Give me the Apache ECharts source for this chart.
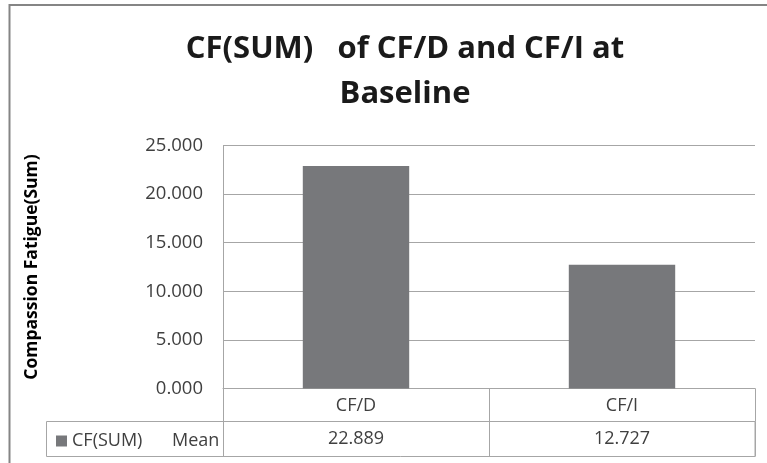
<!DOCTYPE html>
<html>
<head>
<meta charset="utf-8">
<script src="https://cdn.jsdelivr.net/npm/echarts@6/dist/echarts.min.js"></script>
<style>
  html, body { margin: 0; padding: 0; background: #fff; }
  #chart { width: 767px; height: 463px; }
</style>
</head>
<body>
<div id="chart"></div>
<script>
// data
const categories = ['CF/D', 'CF/I']
const meanValues = [22.889, 12.727]
const seriesName = 'CF(SUM)'
const statName = 'Mean'
const yTicks = { min: 0, max: 25, interval: 5 }

const gray = '#a6a6a6'
const txt = '#404040'
const font = 'Open Sans'

let chart = echarts.init(document.getElementById('chart'))
chart.setOption({
  animation: false,
  backgroundColor: '#fff',
  title: {
    text: 'CF(SUM)   of CF/D and CF/I at\nBaseline',
    left: 400,
    textAlign: 'center',
    top: 22,
    textStyle: { fontFamily: font, fontWeight: 'bold', fontSize: 31, lineHeight: 45, color: '#1a1a1a' }
  },
  grid: { left: 223, right: 12, top: 145.5, bottom: 74.5 },
  legend: {
    left: 51,
    top: 427,
    icon: 'rect',
    itemWidth: 11,
    itemHeight: 11,
    itemGap: 5,
    textStyle: {
      fontFamily: font, fontSize: 18, color: txt,
      rich: {
        a: { fontFamily: font, fontSize: 18, color: txt, width: 100 },
        b: { fontFamily: font, fontSize: 18, color: txt }
      }
    },
    formatter: name => '{a|' + name + '}{b|' + statName + '}'
  },
  xAxis: [
    {
      type: 'category',
      data: categories,
      axisLine: { lineStyle: { color: gray } },
      axisTick: { show: true, length: 33, lineStyle: { color: gray } },
      axisLabel: { margin: 6, fontFamily: font, fontSize: 18, lineHeight: 22, color: txt }
    },
    {
      type: 'category',
      data: categories,
      position: 'bottom',
      offset: 33,
      axisLine: { lineStyle: { color: gray } },
      axisTick: { show: true, length: 35, lineStyle: { color: gray } },
      axisLabel: {
        margin: 6, fontFamily: font, fontSize: 18, lineHeight: 22, color: txt,
        formatter: (v, i) => meanValues[i].toFixed(3)
      }
    }
  ],
  yAxis: {
    type: 'value',
    min: yTicks.min,
    max: yTicks.max,
    interval: yTicks.interval,
    name: 'Compassion Fatigue(Sum)',
    nameLocation: 'middle',
    nameGap: 182,
    nameTextStyle: { fontFamily: font, fontWeight: 'bold', fontSize: 17.5, color: '#000' },
    axisLine: { show: true, lineStyle: { color: gray } },
    axisTick: { show: false },
    axisLabel: { margin: 20, fontFamily: font, fontSize: 18.5, color: txt, formatter: v => v.toFixed(3) },
    splitLine: { lineStyle: { color: gray } }
  },
  series: [
    {
      name: seriesName,
      type: 'bar',
      barWidth: '40%',
      data: meanValues,
      itemStyle: { color: '#77787b' }
    }
  ],
  graphic: [
    {
      type: 'rect',
      shape: { x: 9.5, y: 5, width: 800, height: 500 },
      style: { fill: null, stroke: '#858585', lineWidth: 2 },
      silent: true
    },
    {
      type: 'rect',
      shape: { x: 46.5, y: 421.5, width: 708.5, height: 35 },
      style: { fill: null, stroke: gray, lineWidth: 1 },
      silent: true
    }
  ]
})
</script>
</body>
</html>
